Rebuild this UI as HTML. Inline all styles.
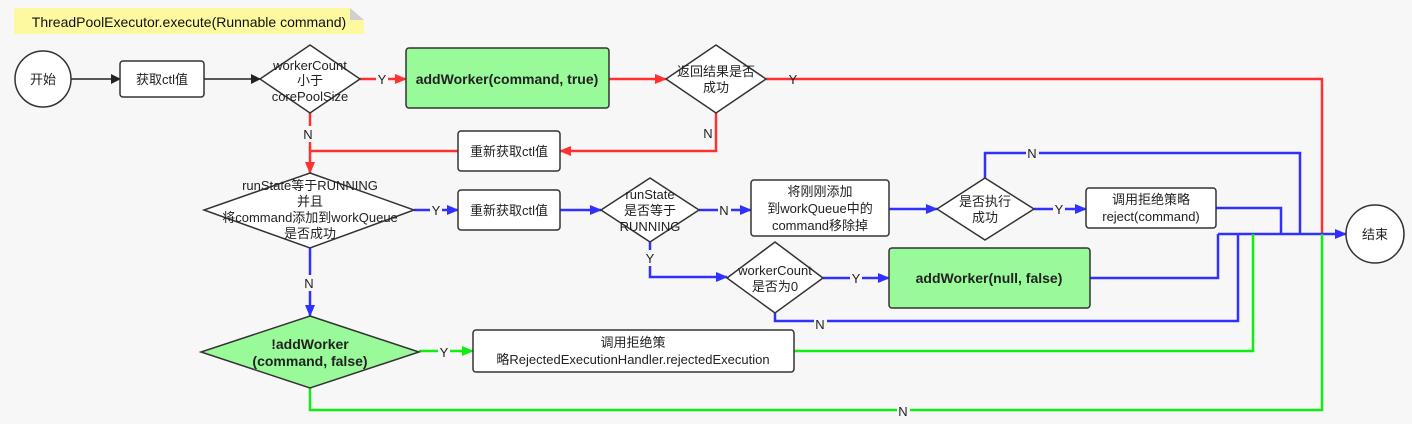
<!DOCTYPE html>
<html><head><meta charset="utf-8"><style>
html,body{margin:0;padding:0;background:#f7f7f7;}
svg{display:block;font-family:"Liberation Sans","Noto Sans CJK SC",sans-serif;}
</style></head><body>
<svg width="1412" height="424" viewBox="0 0 1412 424" xmlns="http://www.w3.org/2000/svg">
<defs>
<marker id="ak" markerWidth="10" markerHeight="10" refX="9" refY="5" orient="auto" markerUnits="userSpaceOnUse"><path d="M0,0 L10,5 L0,10 z" fill="#222"/></marker>
<marker id="ar" markerWidth="12" markerHeight="10" refX="11" refY="5" orient="auto" markerUnits="userSpaceOnUse"><path d="M0,0 L12,5 L0,10 z" fill="#ff3030"/></marker>
<marker id="ab" markerWidth="12" markerHeight="10" refX="11" refY="5" orient="auto" markerUnits="userSpaceOnUse"><path d="M0,0 L12,5 L0,10 z" fill="#3030ff"/></marker>
<marker id="ag" markerWidth="12" markerHeight="10" refX="11" refY="5" orient="auto" markerUnits="userSpaceOnUse"><path d="M0,0 L12,5 L0,10 z" fill="#10ee10"/></marker>
</defs>
<rect x="0" y="0" width="1412" height="424" fill="#f7f7f7"/>
<!-- note -->
<path d="M14,8 H350 L364,20 V34 H14 Z" fill="#fcf9a0"/>
<path d="M350,8 L364,20 H350 Z" fill="#d0d0d0"/>
<text x="189" y="27" font-size="14" text-anchor="middle" fill="#111">ThreadPoolExecutor.execute(Runnable command)</text>

<g fill="none" stroke-width="2.5">
<!-- black -->
<line x1="71" y1="79" x2="120" y2="79" stroke="#222" stroke-width="1.5" marker-end="url(#ak)"/>
<line x1="204" y1="79" x2="260" y2="79" stroke="#222" stroke-width="1.5" marker-end="url(#ak)"/>
<!-- red -->
<line x1="360" y1="79" x2="406" y2="79" stroke="#ff3030" marker-end="url(#ar)"/>
<line x1="609" y1="79" x2="666" y2="79" stroke="#ff3030" marker-end="url(#ar)"/>
<polyline points="766,79 1322,79 1322,234" stroke="#ff3030"/>
<polyline points="716,113 716,151 560,151" stroke="#ff3030" marker-end="url(#ar)"/>
<polyline points="458,151 310,151" stroke="#ff3030"/>
<line x1="310" y1="113" x2="310" y2="173" stroke="#ff3030" marker-end="url(#ar)"/>
<!-- blue -->
<line x1="414" y1="210" x2="458" y2="210" stroke="#3030ff" marker-end="url(#ab)"/>
<line x1="560" y1="210" x2="601" y2="210" stroke="#3030ff" marker-end="url(#ab)"/>
<line x1="699" y1="210" x2="751" y2="210" stroke="#3030ff" marker-end="url(#ab)"/>
<line x1="889" y1="209" x2="937" y2="209" stroke="#3030ff" marker-end="url(#ab)"/>
<line x1="1034" y1="209" x2="1086" y2="209" stroke="#3030ff" marker-end="url(#ab)"/>
<polyline points="985,178 985,153 1300,153 1300,234" stroke="#3030ff"/>
<polyline points="1216,208 1281,208 1281,234" stroke="#3030ff"/>
<line x1="1218" y1="234" x2="1346" y2="234" stroke="#3030ff" marker-end="url(#ab)"/>
<polyline points="650,242 650,277 727,277" stroke="#3030ff" marker-end="url(#ab)"/>
<line x1="823" y1="278" x2="889" y2="278" stroke="#3030ff" marker-end="url(#ab)"/>
<polyline points="1090,278 1218,278 1218,234" stroke="#3030ff"/>
<polyline points="775,313 775,321 1238,321 1238,234" stroke="#3030ff"/>
<line x1="310" y1="248" x2="310" y2="316" stroke="#3030ff" marker-end="url(#ab)"/>
<!-- green -->
<line x1="419" y1="351" x2="473" y2="351" stroke="#10ee10" marker-end="url(#ag)"/>
<polyline points="794,351 1253,351 1253,234" stroke="#10ee10"/>
<polyline points="310,388 310,410 1322,410 1322,234" stroke="#10ee10"/>
</g>

<!-- shapes -->
<g stroke="#333" stroke-width="1.5">
<circle cx="43" cy="79" r="28" fill="#fff"/>
<rect x="120" y="61" width="84" height="36" rx="3" fill="#fff"/>
<polygon points="310,45 360,79 310,113 260,79" fill="#fff"/>
<rect x="406" y="48" width="203" height="60" rx="3" fill="#99fa99"/>
<polygon points="716,45 766,79 716,113 666,79" fill="#fff"/>
<rect x="458" y="131" width="102" height="40" rx="3" fill="#fff"/>
<polygon points="310,173 414,210 310,248 204,210" fill="#fff"/>
<rect x="458" y="190" width="102" height="40" rx="3" fill="#fff"/>
<polygon points="650,178 699,210 650,242 601,210" fill="#fff"/>
<rect x="751" y="180" width="138" height="56" rx="3" fill="#fff"/>
<polygon points="985,178 1034,209 985,240 937,209" fill="#fff"/>
<rect x="1086" y="188" width="130" height="40" rx="3" fill="#fff"/>
<circle cx="1375" cy="234" r="29" fill="#fff"/>
<polygon points="775,242 823,278 775,313 727,278" fill="#fff"/>
<rect x="889" y="248" width="201" height="60" rx="3" fill="#99fa99"/>
<polygon points="310,316 419,352 310,388 201,352" fill="#99fa99"/>
<rect x="473" y="330" width="321" height="42" rx="3" fill="#fff"/>
</g>

<g font-size="13" fill="#222" text-anchor="middle">
<text x="43" y="84">开始</text>
<text x="162" y="84">获取ctl值</text>
<text x="310" y="70">workerCount</text>
<text x="310" y="85">小于</text>
<text x="310" y="101">corePoolSize</text>
<text x="507" y="84" font-size="14" font-weight="bold">addWorker(command, true)</text>
<text x="716" y="76">返回结果是否</text>
<text x="716" y="92">成功</text>
<text x="509" y="156">重新获取ctl值</text>
<text x="310" y="190">runState等于RUNNING</text>
<text x="310" y="206">并且</text>
<text x="310" y="222">将command添加到workQueue</text>
<text x="310" y="238">是否成功</text>
<text x="509" y="215">重新获取ctl值</text>
<text x="650" y="199">runState</text>
<text x="650" y="215">是否等于</text>
<text x="650" y="231">RUNNING</text>
<text x="820" y="196">将刚刚添加</text>
<text x="820" y="213">到workQueue中的</text>
<text x="820" y="230">command移除掉</text>
<text x="985" y="206">是否执行</text>
<text x="985" y="222">成功</text>
<text x="1151" y="204">调用拒绝策略</text>
<text x="1151" y="221">reject(command)</text>
<text x="1375" y="239">结束</text>
<text x="775" y="275">workerCount</text>
<text x="775" y="291">是否为0</text>
<text x="989" y="283" font-size="14" font-weight="bold">addWorker(null, false)</text>
<text x="310" y="349" font-size="14" font-weight="bold">!addWorker</text>
<text x="310" y="366" font-size="14" font-weight="bold">(command, false)</text>
<text x="633" y="347">调用拒绝策</text>
<text x="633" y="364">略RejectedExecutionHandler.rejectedExecution</text>
</g>

<!-- edge labels -->
<g font-size="13" fill="#222" text-anchor="middle">
<rect x="376" y="71" width="12" height="16" fill="#f7f7f7"/><text x="382" y="84">Y</text>
<text x="793" y="84">Y</text>
<rect x="302" y="126" width="13" height="16" fill="#f7f7f7"/><text x="308" y="139">N</text>
<text x="708" y="138">N</text>
<rect x="430" y="202" width="12" height="16" fill="#f7f7f7"/><text x="436" y="215">Y</text>
<rect x="718" y="202" width="13" height="16" fill="#f7f7f7"/><text x="724" y="215">N</text>
<rect x="1053" y="201" width="12" height="16" fill="#f7f7f7"/><text x="1059" y="214">Y</text>
<rect x="1026" y="145" width="13" height="16" fill="#f7f7f7"/><text x="1032" y="158">N</text>
<rect x="644" y="250" width="12" height="16" fill="#f7f7f7"/><text x="650" y="263">Y</text>
<rect x="850" y="270" width="12" height="16" fill="#f7f7f7"/><text x="856" y="283">Y</text>
<rect x="814" y="316" width="13" height="16" fill="#f7f7f7"/><text x="820" y="329">N</text>
<rect x="302" y="275" width="13" height="16" fill="#f7f7f7"/><text x="309" y="288">N</text>
<rect x="438" y="344" width="12" height="16" fill="#f7f7f7"/><text x="444" y="357">Y</text>
<rect x="897" y="404" width="13" height="16" fill="#f7f7f7"/><text x="903" y="416">N</text>
</g>
</svg>
</body></html>
